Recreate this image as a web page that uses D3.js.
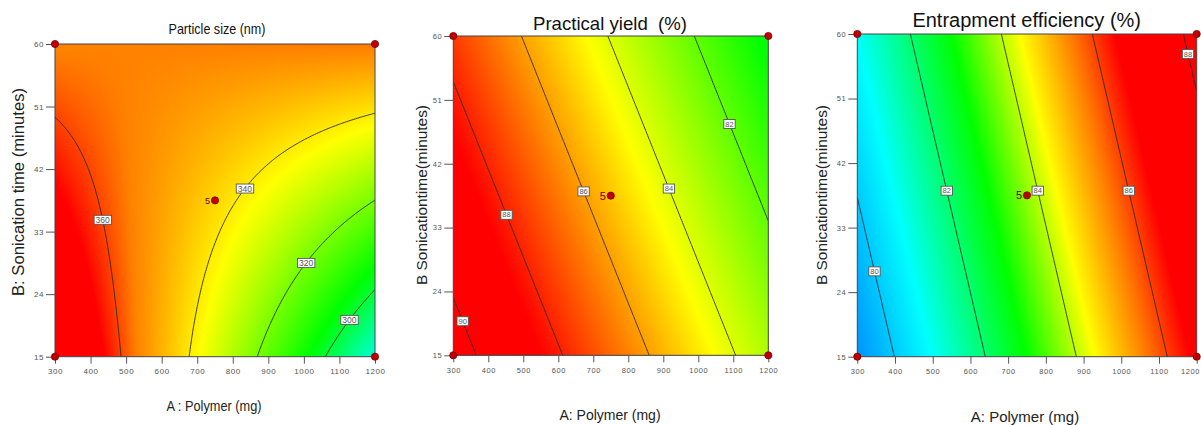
<!DOCTYPE html>
<html><head><meta charset="utf-8">
<script src="https://cdn.jsdelivr.net/npm/d3@7"></script>
<style>html,body{margin:0;padding:0;background:#fff;overflow:hidden}</style>
</head><body>
<svg id="chart" width="1201" height="425" xmlns="http://www.w3.org/2000/svg"></svg>
<script>
// ---------------- data ----------------
const polymerTicks = [300,400,500,600,700,800,900,1000,1100,1200];
const sonicationTicks = [15,24,33,42,51,60];
const polymerRange = [300,1200];
const sonicationRange = [15,60];
const centerPoint = [750, 37.5];
const centerReplicates = "5";
// fitted response-surface coefficients (coded units): [intercept, A, B, AB, A², B²]
const sizeCoef  = [343.1, -23.15, 11.61, 23.85, 0, 0.91];
const yieldCoef = [85.41, -3.644, -1.478, 0, 0, 0];
const eeCoef    = [83.74, 3.73, 0.824, 0, 0, 0];
// contour levels
const sizeLevels  = [300, 320, 340, 360];
const yieldLevels = [82, 84, 86, 88, 90];
const eeLevels    = [80, 82, 84, 86, 88];
// sonication value (B) at which each contour label sits
const sizeLabelAt  = [20.3, 28.5, 39.2, 34.7];
const yieldLabelAt = [47.6, 38.5, 38.1, 34.8, 19.8];
const eeLabelAt    = [26.9, 38.15, 38.15, 38.15, 57.2];
// response values matching the gradient colours
const gradientColors = ["#0000ff","#00ffff","#00ff00","#ffff00","#ff8000","#ff0000"];
const sizeColorStops  = [262, 282, 305, 337, 355.5, 365];
const yieldColorStops = [76, 78, 80.5, 84.5, 86.5, 88.5];
const eeColorStops    = [77, 80.8, 82.9, 84.4, 85.5, 86.5];

// ---------------- layout ----------------
const panels = [
  {coef:sizeCoef, levels:sizeLevels, labelAt:sizeLabelAt, stops:sizeColorStops,
   box:{l:55,r:375,t:44,b:356.7},
   title:{text:"Particle size (nm)", x:217, y:34, size:15, len:97},
   xlab:{text:"A : Polymer (mg)", x:214, y:411, size:15, len:95},
   ylab:{text:"B: Sonication time (minutes)", x:24, y:192, size:16.5, len:208},
   tickSize:8, labSize:8.5, fiveSize:9},
  {coef:yieldCoef, levels:yieldLevels, labelAt:yieldLabelAt, stops:yieldColorStops,
   box:{l:453.3,r:768.3,t:36,b:355.3},
   title:{text:"Practical yield  (%)", x:610, y:29.5, size:18.6},
   xlab:{text:"A: Polymer (mg)", x:610, y:420, size:14},
   ylab:{text:"B Sonicationtime(minutes)", x:427, y:195, size:15.5, len:180},
   tickSize:7.5, labSize:7.5, fiveSize:11},
  {coef:eeCoef, levels:eeLevels, labelAt:eeLabelAt, stops:eeColorStops,
   box:{l:857.3,r:1196.7,t:34,b:356.7},
   title:{text:"Entrapment efficiency (%)", x:1026.7, y:26.5, size:20},
   xlab:{text:"A: Polymer (mg)", x:1025, y:422, size:15},
   ylab:{text:"B Sonicationtime(minutes)", x:827, y:195, size:15.5, len:180},
   tickSize:7.5, labSize:7.5, fiveSize:11}
];

const W = 1201;
const svg = d3.select("#chart");
const font = "'Liberation Sans', Arial, sans-serif";
const midA = (polymerRange[0]+polymerRange[1])/2, halfA = (polymerRange[1]-polymerRange[0])/2;
const midB = (sonicationRange[0]+sonicationRange[1])/2, halfB = (sonicationRange[1]-sonicationRange[0])/2;
function model(c, A, B){
  const a = (A-midA)/halfA, b = (B-midB)/halfB;
  return c[0] + c[1]*a + c[2]*b + c[3]*a*b + c[4]*a*a + c[5]*b*b;
}
function solveA(c, level, B){
  let lo = polymerRange[0], hi = polymerRange[1];
  let flo = model(c, lo, B) - level;
  for (let k=0;k<60;k++){
    const mid=(lo+hi)/2, fm=model(c,mid,B)-level;
    if ((fm<0) === (flo<0)) { lo=mid; flo=fm; } else hi=mid;
  }
  return (lo+hi)/2;
}

panels.forEach((p, idx) => {
  const {l,r,t,b} = p.box;
  const x = d3.scaleLinear().domain(polymerRange).range([l,r]);
  const y = d3.scaleLinear().domain(sonicationRange).range([b,t]);
  const color = d3.scaleLinear().domain(p.stops).range(gradientColors).clamp(true);
  const g = svg.append("g");

  // gradient fill
  const w = Math.round(r-l), h = Math.round(b-t);
  const cv = document.createElement("canvas"); cv.width=w; cv.height=h;
  const ctx = cv.getContext("2d"); const img = ctx.createImageData(w,h);
  for (let j=0;j<h;j++) for (let i=0;i<w;i++){
    const A = x.invert(l + (i+0.5)*(r-l)/w), B = y.invert(t + (j+0.5)*(b-t)/h);
    const c = d3.rgb(color(model(p.coef, A, B)));
    const k = (j*w+i)*4; img.data[k]=c.r; img.data[k+1]=c.g; img.data[k+2]=c.b; img.data[k+3]=255;
  }
  ctx.putImageData(img,0,0);
  g.append("image").attr("x",l).attr("y",t).attr("width",r-l).attr("height",b-t)
    .attr("preserveAspectRatio","none").attr("href", cv.toDataURL());

  // contour lines
  const n = 181, m = 181;
  const stepA = (polymerRange[1]-polymerRange[0])/(n-1), stepB = (sonicationRange[1]-sonicationRange[0])/(m-1);
  const vals = new Array(n*m);
  for (let j=0;j<m;j++) for (let i=0;i<n;i++)
    vals[j*n+i] = model(p.coef, polymerRange[0]+i*stepA, sonicationRange[0]+j*stepB);
  const cont = d3.contours().size([n,m]).thresholds(p.levels)(vals);
  const proj = d3.geoTransform({point:function(gx,gy){
    this.stream.point(x(polymerRange[0]+(gx-0.5)*stepA), y(sonicationRange[0]+(gy-0.5)*stepB));
  }});
  const path = d3.geoPath(proj);
  const clipId = "clip"+idx;
  svg.append("clipPath").attr("id",clipId).append("rect")
    .attr("x",l).attr("y",t).attr("width",r-l).attr("height",b-t);
  g.append("g").attr("clip-path",`url(#${clipId})`).selectAll("path").data(cont).join("path")
    .attr("d",path).attr("fill","none").attr("stroke","#2a2a2a").attr("stroke-width",0.9);

  // border
  g.append("rect").attr("x",l).attr("y",t).attr("width",r-l).attr("height",b-t)
    .attr("fill","none").attr("stroke","#444").attr("stroke-width",1);

  // axes
  const ax = g.append("g").attr("transform",`translate(0,${b})`)
    .call(d3.axisBottom(x).tickValues(polymerTicks).tickSize(7).tickPadding(5).tickFormat(d3.format("d")));
  const ay = g.append("g").attr("transform",`translate(${l},0)`)
    .call(d3.axisLeft(y).tickValues(sonicationTicks).tickSize(9).tickPadding(2).tickFormat(d3.format("d")));
  [ax,ay].forEach(a=>{
    a.select(".domain").remove();
    a.selectAll(".tick line").attr("stroke","#555").attr("stroke-width",1);
    a.selectAll(".tick text").attr("fill","#555").style("font-family",font)
      .style("font-size",p.tickSize+"px").style("letter-spacing","0.6px");
  });
  // keep the last x tick label inside the window
  ax.selectAll(".tick text").each(function(){
    const bb = this.getBBox(), tr = this.parentNode.transform.baseVal.consolidate();
    const gx = tr ? tr.matrix.e : 0;
    if (gx + bb.x + bb.width > W - 1) d3.select(this).attr("text-anchor","end").attr("x", W - 1 - gx);
  });

  // contour labels
  p.levels.forEach((lev, k) => {
    const B = p.labelAt[k], A = solveA(p.coef, lev, B);
    const lg = g.append("g").attr("transform",`translate(${x(A)},${y(B)})`);
    const tx = lg.append("text").attr("text-anchor","middle").attr("dy","0.35em")
      .style("font-family",font).style("font-size",p.labSize+"px").attr("fill","#555").text(lev);
    const bb = tx.node().getBBox();
    lg.insert("rect","text").attr("x",bb.x-1.5).attr("y",-4.5).attr("width",bb.width+3).attr("height",9)
      .attr("fill","#fff").attr("stroke","#555").attr("stroke-width",0.9);
  });

  // design points
  const corners = [[polymerRange[0],sonicationRange[0]],[polymerRange[1],sonicationRange[0]],
                   [polymerRange[0],sonicationRange[1]],[polymerRange[1],sonicationRange[1]]];
  g.selectAll("circle.dp").data(corners.concat([centerPoint])).join("circle")
    .attr("cx",d=>x(d[0])).attr("cy",d=>y(d[1])).attr("r",3.6)
    .attr("fill","#c00000").attr("stroke","#7a0000").attr("stroke-width",0.8);
  g.append("text").attr("x",x(centerPoint[0])-5).attr("y",y(centerPoint[1])).attr("dy","0.35em")
    .attr("text-anchor","end").style("font-family",font).style("font-size",p.fiveSize+"px")
    .attr("fill","#6a0000").text(centerReplicates);

  // titles & axis labels
  const tt = g.append("text").attr("x",p.title.x).attr("y",p.title.y).attr("text-anchor","middle")
    .style("font-family",font).style("font-size",p.title.size+"px").style("white-space","pre")
    .attr("fill","#111").text(p.title.text);
  if (p.title.len) tt.attr("textLength",p.title.len).attr("lengthAdjust","spacingAndGlyphs");
  const xl = g.append("text").attr("x",p.xlab.x).attr("y",p.xlab.y).attr("text-anchor","middle")
    .style("font-family",font).style("font-size",p.xlab.size+"px").attr("fill","#222").text(p.xlab.text);
  if (p.xlab.len) xl.attr("textLength",p.xlab.len).attr("lengthAdjust","spacingAndGlyphs");
  const yl = g.append("text").attr("transform",`translate(${p.ylab.x},${p.ylab.y}) rotate(-90)`)
    .attr("text-anchor","middle").style("font-family",font).style("font-size",p.ylab.size+"px")
    .attr("fill","#222").text(p.ylab.text);
  if (p.ylab.len) yl.attr("textLength",p.ylab.len).attr("lengthAdjust","spacingAndGlyphs");
});
</script>
</body></html>
